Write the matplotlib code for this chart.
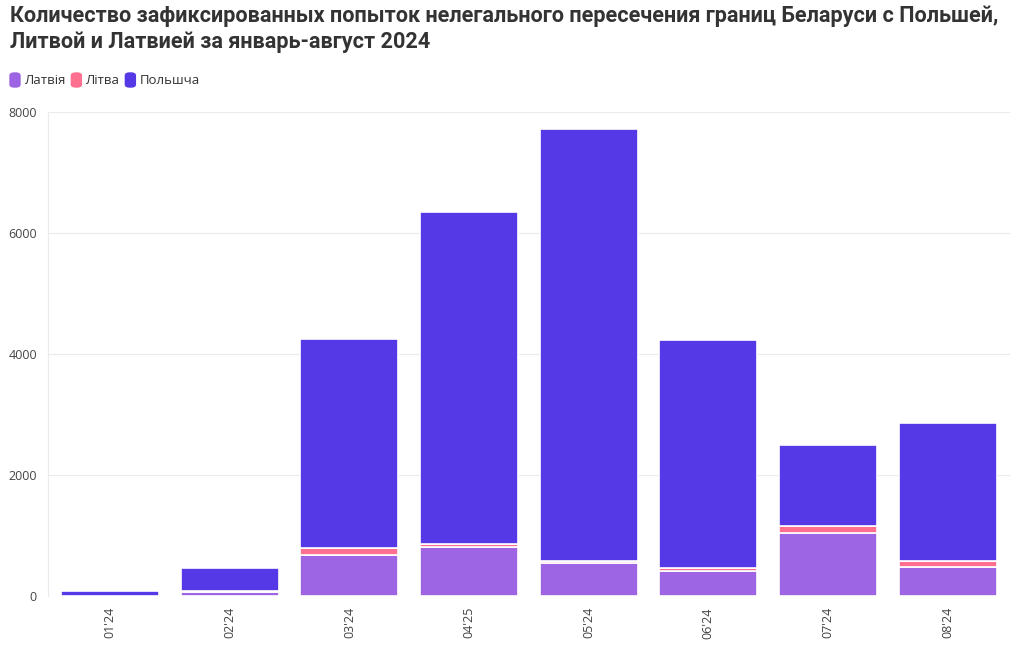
import numpy as np
import matplotlib.pyplot as plt
from matplotlib.patches import FancyBboxPatch

months = ["01'24", "02'24", "03'24", "04'25", "05'24", "06'24", "07'24", "08'24"]
latvia = [5, 70, 680, 815, 540, 413, 1036, 474]
lithuania = [2, 20, 113, 45, 35, 45, 116, 100]
poland = [80, 370, 3455, 5487, 7145, 3773, 1344, 2286]

series = [("Латвія", latvia, "#9d65e3"),
          ("Літва", lithuania, "#ff7090"),
          ("Польшча", poland, "#5539e6")]

plt.rcParams['font.family'] = ['Open Sans', 'DejaVu Sans']

fig = plt.figure(figsize=(10.2, 6.5), dpi=100)
ax = fig.add_axes([0.047, 0.0831, 0.943, 0.7446])

x = np.arange(len(months))
bottom = np.zeros(len(months))
for name, vals, col in series:
    ax.bar(x, vals, bottom=bottom, width=0.82, color=col, edgecolor='white',
           linewidth=1.2, label=name, zorder=3)
    bottom += np.array(vals)

ax.set_xlim(-0.52, len(months) - 0.48)
ax.set_ylim(0, 8000)
ax.set_yticks([0, 2000, 4000, 6000, 8000])
ax.set_xticks(x)
ax.set_xticklabels(months, rotation=90)
ax.grid(axis='y', color='#ebebeb', linewidth=0.8, zorder=0)
for s in ['top', 'right', 'bottom']:
    ax.spines[s].set_visible(False)
ax.spines['left'].set_color('#ebebeb')
ax.tick_params(axis='both', length=0, labelsize=9, colors='#444444')
ax.tick_params(axis='x', pad=8)
ax.tick_params(axis='y', pad=8)

# title
fig.text(0.01, 0.992, "Количество зафиксированных попыток нелегального пересечения границ Беларуси с Польшей,\n"
         "Литвой и Латвией за январь-август 2024",
         ha='left', va='top', fontsize=15.6, fontweight='bold', color='#333333',
         family=['Roboto', 'DejaVu Sans'], linespacing=1.22)

# legend
lx = 10
for name, vals, col in series:
    fig.patches.append(FancyBboxPatch((lx / 1020, 1 - 87 / 650), 10 / 1020, 14 / 650,
                                      boxstyle="round,pad=0,rounding_size=0.004",
                                      transform=fig.transFigure, color=col))
    t = fig.text((lx + 14) / 1020, 1 - 80 / 650, name, ha='left', va='center',
                 fontsize=9.5, color='#333333')
    fig.canvas.draw()
    bb = t.get_window_extent()
    lx = bb.x1 + 6

fig.savefig('out.png', dpi=100)
